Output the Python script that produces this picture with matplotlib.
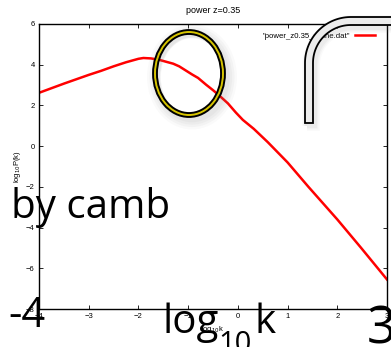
import numpy as np
import matplotlib.pyplot as plt
from matplotlib.patches import Ellipse, Polygon

# log10 k vs log10 P(k)
log_k = [-4.0, -3.5, -3.0, -2.75, -2.5, -2.25, -2.0, -1.9, -1.75, -1.6, -1.45,
         -1.3, -1.18, -1.05, -0.92, -0.8, -0.64, -0.5, -0.38, -0.2, -0.04,
         0.1, 0.32, 0.6, 1.0, 1.42, 2.0, 2.48, 3.0]
log_p = [2.62, 3.07, 3.5, 3.7, 3.92, 4.12, 4.29, 4.33, 4.31, 4.25, 4.15,
         4.05, 3.92, 3.72, 3.52, 3.35, 3.02, 2.75, 2.5, 2.1, 1.65,
         1.29, 0.85, 0.2, -0.8, -2.0, -3.6, -5.0, -6.55]

xticks = [-4, -3, -2, -1, 0, 1, 2, 3]
yticks = [-8, -6, -4, -2, 0, 2, 4, 6]

W, H = 391, 347
fig = plt.figure(figsize=(W / 100, H / 100), dpi=100)
ax = fig.add_axes([39 / W, 1 - 309 / H, 348 / W, 285 / H])

small = dict(family='Liberation Sans', fontsize=5.5)
ax.plot(log_k, log_p, color='red', lw=1.8, label='"power_z0.35_spline.dat"')
ax.set_xlim(-4, 3)
ax.set_ylim(-8, 6)
ax.set_xticks(xticks)
ax.set_yticks(yticks)
ax.tick_params(direction='in', length=3, width=0.6, top=True, right=True, pad=3)
for lab in ax.get_xticklabels() + ax.get_yticklabels():
    lab.set_fontfamily('Liberation Sans')
    lab.set_fontsize(5.5)
for s in ax.spines.values():
    s.set_linewidth(1.0)
ax.set_title('power z=0.35', pad=8, family='Liberation Sans', fontsize=6.5)
ax.set_xlabel(r'log$_{10}$k', labelpad=3, **small)
ax.set_ylabel(r'log$_{10}$P(k)', labelpad=2, **small)
ax.legend(loc='upper right', bbox_to_anchor=(0.985, 0.995), frameon=False,
          markerfirst=False, handlelength=2.6, handletextpad=0.6,
          prop={'family': 'Liberation Sans', 'size': 5.6})

# overlay in pixel coordinates for the annotations
ov = fig.add_axes([0, 0, 1, 1], zorder=5)
ov.set_xlim(0, W)
ov.set_ylim(H, 0)
ov.axis('off')
ov.patch.set_alpha(0)

# ellipse marker with soft shadow
for i, a in enumerate([0.06, 0.05, 0.05, 0.04]):
    ov.add_patch(Ellipse((192, 77), 70 + 2 * i, 85 + 2 * i, fill=False,
                         ec='gray', lw=4 + 2 * i, alpha=a))
ov.add_patch(Ellipse((189, 73.5), 68, 83, fill=False, ec='black', lw=4.2))
ov.add_patch(Ellipse((189, 73.5), 68, 83, fill=False, ec='#d6c400', lw=1.4))

# bent pipe at top right
cx, cy, ro, ri = 351, 63, 46, 38
t = np.linspace(np.pi, 1.5 * np.pi, 40)
outer = [(305, 123)] + [(cx + ro * np.cos(a), cy + ro * np.sin(a)) for a in t] + [(400, cy - ro)]
inner = [(400, cy - ri)] + [(cx + ri * np.cos(a), cy + ri * np.sin(a)) for a in t[::-1]] + [(313, 123)]
for i, a in enumerate([0.06, 0.05, 0.04]):
    shadow = [(x + 2, y + 3) for x, y in outer + inner]
    ov.add_patch(Polygon(shadow, closed=True, fc='none', ec='gray', lw=3 + 2 * i, alpha=a))
ov.add_patch(Polygon(outer + inner, closed=True, fc='#ececec', ec='black', lw=1.3))

big = dict(family='Open Sans', color='black')
ov.text(11, 218, 'by camb', fontsize=29, va='baseline', ha='left', **big)
ov.text(8, 327, '-4', fontsize=30, va='baseline', ha='left', **big)
ov.text(162, 333, 'log', fontsize=29, va='baseline', ha='left', **big)
ov.text(218, 352, '10', fontsize=21, va='baseline', ha='left', **big)
ov.text(254, 333, 'k', fontsize=29, va='baseline', ha='left', **big)
ov.text(367, 343, '3', fontsize=37, va='baseline', ha='left', **big)

fig.savefig('out.png', dpi=100)
